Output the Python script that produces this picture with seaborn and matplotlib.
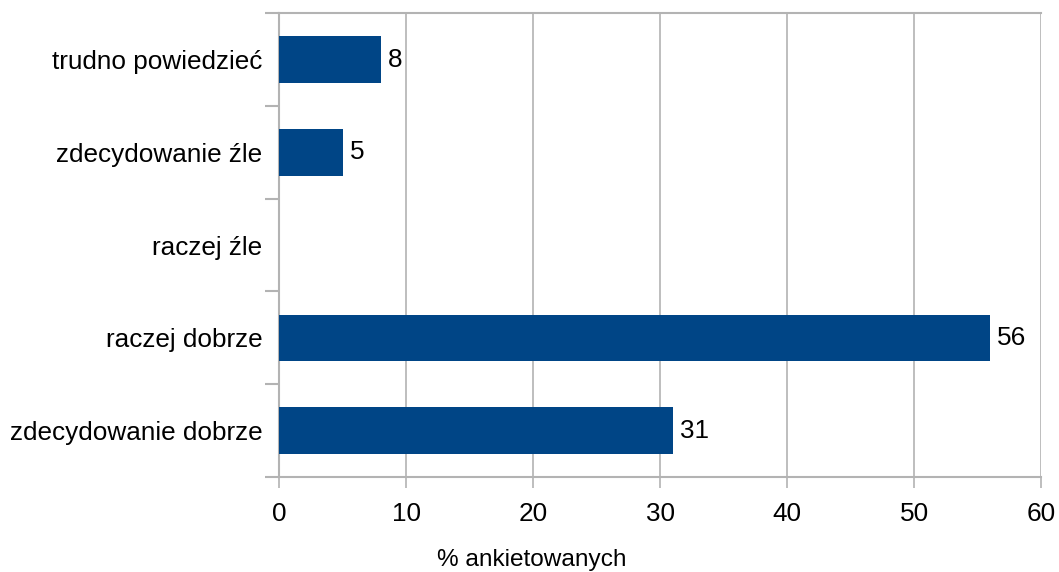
import pandas as pd
import matplotlib.pyplot as plt
import seaborn as sns
from matplotlib.ticker import FixedLocator

# Dane z wykresu (od gory do dolu)
kategorie = ["trudno powiedzieć", "zdecydowanie źle", "raczej źle",
             "raczej dobrze", "zdecydowanie dobrze"]
wartosci = [8, 5, 0, 56, 31]
ticki_x = [0, 10, 20, 30, 40, 50, 60]

df = pd.DataFrame({"kategoria": kategorie, "procent": wartosci})

sns.set_style("white")
plt.rcParams["font.family"] = ["Liberation Sans", "DejaVu Sans"]
plt.rcParams["text.color"] = "black"
plt.rcParams["xtick.color"] = "black"
plt.rcParams["ytick.color"] = "black"
plt.rcParams["axes.labelcolor"] = "black"

SZARY = "#b3b3b3"
NIEBIESKI = "#004586"

fig = plt.figure(figsize=(10.59, 5.72), dpi=100)
ax = fig.add_axes([0.2635, 0.166, 0.7195, 0.811])

sns.barplot(data=df, x="procent", y="kategoria", order=kategorie,
            color=NIEBIESKI, width=0.5, saturation=1, linewidth=0,
            ax=ax, zorder=3)

ax.set_xlim(0, 60)
ax.set_ylim(len(kategorie) - 0.5, -0.5)
ax.set_xticks(ticki_x)
ax.xaxis.grid(True, color=SZARY, linewidth=1.2, zorder=0)
ax.set_axisbelow(True)

# etykiety wartosci przy slupkach (bez zera)
for i, v in enumerate(wartosci):
    if v > 0:
        ax.text(v + 0.55, i, str(v), va="center", ha="left", fontsize=18.8)

# ramka i znaczniki osi
for s in ["left", "bottom", "top"]:
    ax.spines[s].set_color(SZARY)
    ax.spines[s].set_linewidth(1.5)
ax.spines["right"].set_visible(False)

ax.yaxis.set_minor_locator(FixedLocator([i - 0.5 for i in range(len(kategorie) + 1)]))
ax.tick_params(axis="y", which="major", length=0, labelsize=18.8, pad=12,
               labelcolor="black")
ax.tick_params(axis="y", which="minor", length=10, width=1.5, color=SZARY, left=True)
ax.tick_params(axis="x", which="major", length=8, width=1.2, color=SZARY,
               bottom=True, labelsize=18.8, pad=10, labelcolor="black")

ax.set_ylabel("")
ax.set_xlabel("% ankietowanych", fontsize=17.6, color="black")
ax.xaxis.set_label_coords(0.332, -0.155)

fig.savefig("out.png", dpi=100)
